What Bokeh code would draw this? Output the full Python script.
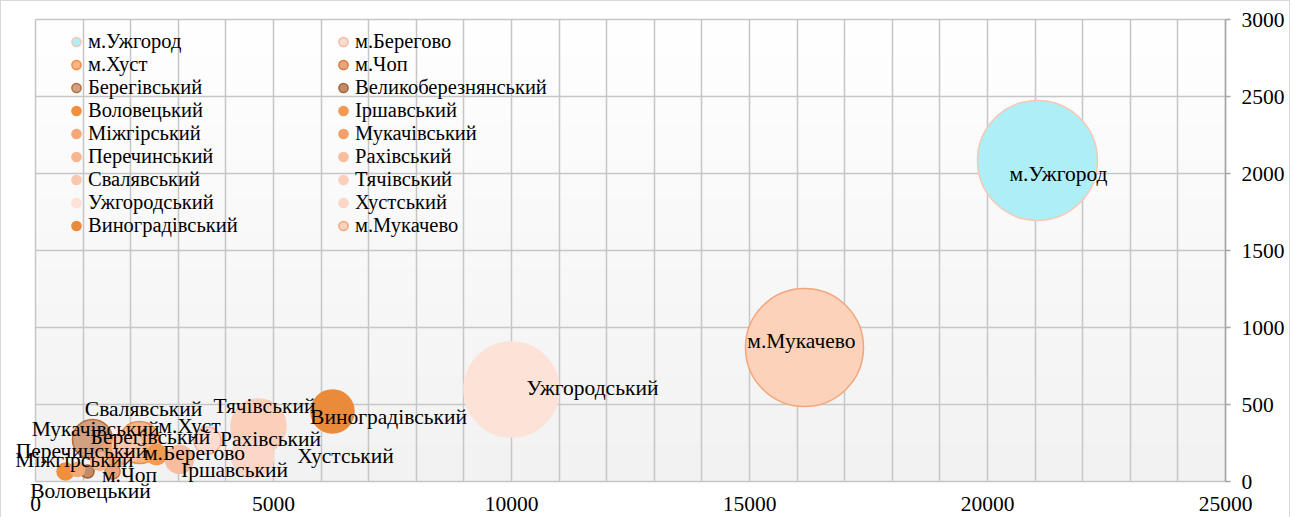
import numpy as np
from bokeh.plotting import figure
from bokeh.models import (ColumnDataSource, Label, Range1d, SingleIntervalTicker,
                          FixedTicker, Legend, LegendItem, Grid)
from bokeh.embed import file_html
from bokeh.resources import INLINE

# ---- data ----
names = ["м.Ужгород", "м.Берегово", "м.Хуст", "м.Чоп", "Берегівський", "Великоберезнянський",
         "Воловецький", "Іршавський", "Міжгірський", "Мукачівський", "Перечинський", "Рахівський",
         "Свалявський", "Тячівський", "Ужгородський", "Хустський", "Виноградівський", "м.Мукачево"]
x_vals = [21050, 3613, 2185, 1618, 1197, 1092, 630, 2542, 882, 1723, 1345, 3025,
          1933, 4685, 10000, 4559, 6240, 16155]
y_vals = [2085, 266, 253, 65, 273, 65, 65, 175, 78, 195, 130, 143,
          227, 357, 597, 162, 455, 870]
bubble = [1000, 51, 122, 16, 111, 12, 20, 28, 14, 54, 22, 54,
          63, 210, 627, 122, 128, 967]
show_label = [True, True, True, True, True, False, True, True, True, True, True, True,
              True, True, True, True, True, True]
x_ticks = [0, 5000, 10000, 15000, 20000, 25000]
y_ticks = [0, 500, 1000, 1500, 2000, 2500, 3000]
X_MAX, Y_MAX = 25000, 3000

# ---- styles ----
fills = ["#aeeef6", "#fcdcd0", "#f8b583", "#eaa47a", "#d4a082", "#c48b68",
         "#f0903f", "#f29a52", "#f5a877", "#f4a06b", "#f7b690", "#f8bc9e",
         "#f9c7ae", "#fbcfba", "#fde2d8", "#fcd7c7", "#ea8b3b", "#fcd2ba"]
lines = ["#f5c8b4", "#f4b89e", "#ee8c4a", "#d27c40", "#b3703f", "#a0633a",
         "#f0903f", "#f29a52", "#f5a877", "#f4a06b", "#f7b690", "#f8bc9e",
         "#f9c7ae", "#fbcfba", "#fde2d8", "#fcd7c7", "#ea8b3b", "#f3a67b"]
label_dx = [21, -13, 50, 17, 58, 0, 25, 78, -3, -22, -18, 91, 16, 6, 81, 93, 56, -3]
label_dy = [14, 12, -17, 4, -2, 0, 20, 15, -9, -22, -10, -20, -38, -21, -2, -1, 6, -7]
MAX_D = 120.0
FONT = "Liberation Serif"
FS = "21.5px"
LEG_FS = "20.5px"

# plot-area geometry (px); the frame is padded on every side so that
# labels near the edges are not clipped
AREA_W, AREA_H = 1190, 462
PAD_L, PAD_R, PAD_B, PAD_T = 34, 66, 35, 18
x_start = -PAD_L / AREA_W * X_MAX
x_end = X_MAX + PAD_R / AREA_W * X_MAX
y_start = -PAD_B / AREA_H * Y_MAX
y_end = Y_MAX + PAD_T / AREA_H * Y_MAX

p = figure(width=PAD_L + AREA_W + PAD_R, height=PAD_T + AREA_H + PAD_B + 40,
           output_backend="svg", toolbar_location=None,
           x_range=Range1d(x_start, x_end), y_range=Range1d(y_start, y_end),
           y_axis_location="right",
           min_border_left=0, min_border_top=0, min_border_right=0, min_border_bottom=40)
p.styles = {"border": "1px solid #d9d9d9"}
p.outline_line_color = None
p.background_fill_color = "white"

# gradient background of plot area
n = 200
t = np.linspace(0, 1, n)
g = (242 + (255 - 242) * t).astype(np.uint32)
img = np.zeros((n, 1), dtype=np.uint32)
img[:, 0] = (255 << 24) | (g << 16) | (g << 8) | g
p.image_rgba(image=[img], x=0, y=0, dw=X_MAX, dh=Y_MAX, level="image")

# grids
p.xgrid.ticker = SingleIntervalTicker(interval=1000)
p.ygrid.ticker = SingleIntervalTicker(interval=500)
p.xgrid.bounds = (0, X_MAX)
p.ygrid.bounds = (0, Y_MAX)
has_cross = "cross_bounds" in Grid.properties()
if has_cross:
    p.xgrid.cross_bounds = (0, Y_MAX)
    p.ygrid.cross_bounds = (0, X_MAX)
for gr in (p.xgrid, p.ygrid):
    gr.grid_line_color = "#c6c6c6"
    gr.grid_line_width = 1.5
if not has_cross:
    p.quad(left=[x_start, x_start, X_MAX, x_start], right=[0, x_end, x_end, x_end],
           bottom=[y_start, y_start, y_start, Y_MAX], top=[y_end, 0, y_end, y_end],
           fill_color="white", line_color=None, level="underlay")

# axes (fixed inside the padded frame)
p.xaxis.ticker = FixedTicker(ticks=x_ticks)
p.xaxis.fixed_location = 0
p.xaxis.axis_line_color = None
p.xaxis.major_tick_line_color = None
p.xaxis.minor_tick_line_color = None
p.xaxis.major_tick_out = 0
p.xaxis.major_tick_in = 0
p.xaxis.major_label_standoff = 15
p.yaxis.ticker = FixedTicker(ticks=y_ticks)
p.yaxis.fixed_location = X_MAX
p.yaxis.bounds = (0, Y_MAX)
p.yaxis.axis_line_color = "#a6a6a6"
p.yaxis.axis_line_width = 1.5
p.yaxis.major_tick_line_color = "#a6a6a6"
p.yaxis.major_tick_line_width = 1.5
p.yaxis.major_tick_out = 5
p.yaxis.major_tick_in = 0
p.yaxis.minor_tick_line_color = None
p.yaxis.major_label_standoff = 11
for ax in (p.xaxis, p.yaxis):
    ax.major_label_text_font = FONT
    ax.major_label_text_font_size = FS
    ax.major_label_text_color = "black"

# bubbles
items = []
for i, nm in enumerate(names):
    src = ColumnDataSource(dict(x=[x_vals[i]], y=[y_vals[i]],
                                d=[MAX_D * np.sqrt(bubble[i] / max(bubble))]))
    r = p.scatter("x", "y", size="d", source=src, fill_color=fills[i],
                  line_color=lines[i], line_width=1.5)
    items.append(LegendItem(label=nm, renderers=[r]))

legend = Legend(items=items, orientation="horizontal", ncols=2,
                location=(PAD_L + 29, PAD_B + 244), margin=0, padding=0, spacing=0,
                glyph_width=24, glyph_height=23, label_height=23, label_width=243,
                label_standoff=0, label_text_font=FONT, label_text_font_size=LEG_FS,
                label_text_color="black", background_fill_alpha=0, border_line_color=None)
p.add_layout(legend, "center")

# data labels
for i, nm in enumerate(names):
    if not show_label[i]:
        continue
    p.add_layout(Label(x=x_vals[i], y=y_vals[i], text=nm,
                       x_offset=label_dx[i], y_offset=-label_dy[i],
                       text_align="center", text_baseline="middle",
                       text_font=FONT, text_font_size=FS, text_color="black"))

open("out.html", "w").write(file_html(p, INLINE))
